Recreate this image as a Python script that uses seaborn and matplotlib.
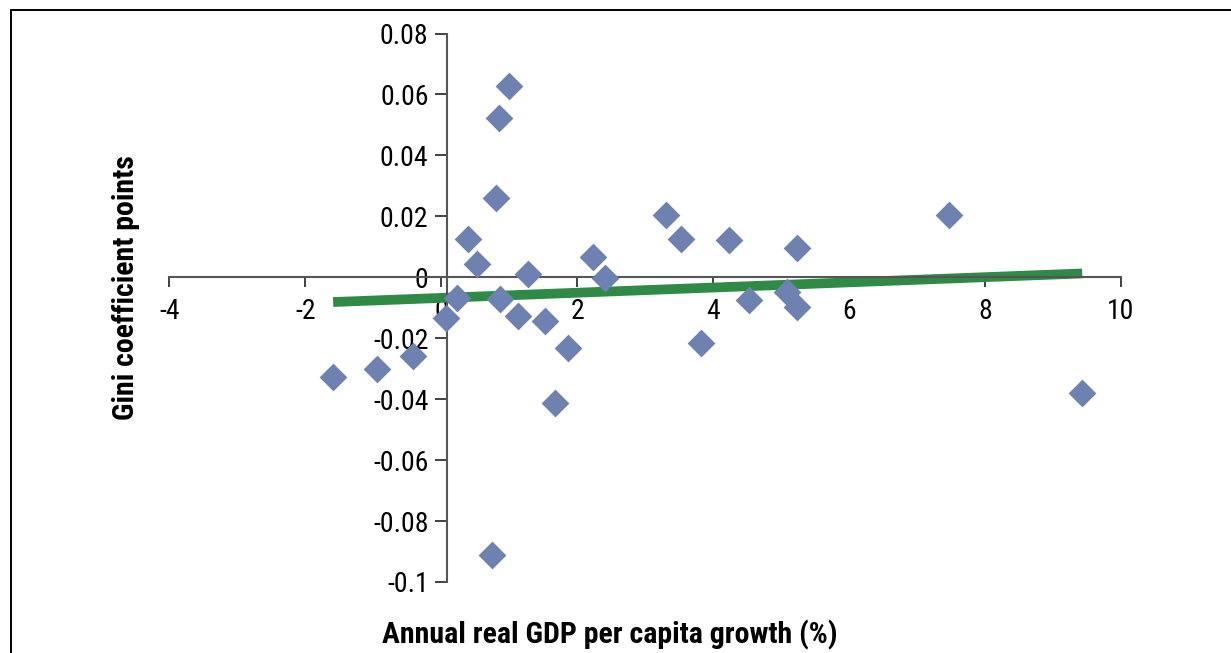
import matplotlib
matplotlib.use("Agg")
import matplotlib.pyplot as plt
from matplotlib import font_manager
from matplotlib.lines import Line2D
import seaborn as sns
import pandas as pd
import numpy as np

# ---- data ----
gdp_growth = [-1.59, -0.94, -0.42, 0.07, 0.23, 0.39, 0.52, 0.80, 0.85, 1.00,
              0.86, 1.13, 1.27, 1.52, 1.87, 1.68, 2.24, 2.41, 3.30, 3.53,
              3.82, 4.24, 4.53, 5.08, 5.24, 5.24, 7.47, 9.43, 0.75]
gini_change = [-0.0327, -0.0301, -0.0258, -0.0134, -0.0069, 0.0126, 0.0043, 0.0260, 0.0524, 0.0628,
               -0.0072, -0.0127, 0.0010, -0.0144, -0.0233, -0.0412, 0.0067, -0.0003, 0.0205, 0.0126,
               -0.0217, 0.0122, -0.0076, -0.0049, -0.0097, 0.0096, 0.0204, -0.0379, -0.0911]
x_ticks = [-4, -2, 0, 2, 4, 6, 8, 10]
x_tick_labels = ["-4", "-2", "0", "2", "4", "6", "8", "10"]
y_ticks = [0.08, 0.06, 0.04, 0.02, 0, -0.02, -0.04, -0.06, -0.08, -0.1]
y_tick_labels = ["0.08", "0.06", "0.04", "0.02", "0", "-0.02", "-0.04", "-0.06", "-0.08", "-0.1"]
x_label = "Annual real GDP per capita growth (%)"
y_label = "Gini coefficient points"

df = pd.DataFrame({"growth": gdp_growth, "gini": gini_change})

sns.set_theme(style="white")


def pick_font(names):
    for n in names:
        try:
            font_manager.findfont(font_manager.FontProperties(family=n), fallback_to_default=False)
            return n
        except Exception:
            continue
    return "DejaVu Sans"


narrow = pick_font(["Liberation Sans Narrow", "Roboto Condensed", "Liberation Sans"])
plt.rcParams["font.family"] = [narrow, "DejaVu Sans"]

fig = plt.figure(figsize=(12.31, 6.53), dpi=100)
W, H = 1231, 653
left_px, right_px, top_px, bottom_px = 169.3, 1121.0, 33.5, 582.0
ax = fig.add_axes([left_px / W, 1 - bottom_px / H, (right_px - left_px) / W, (bottom_px - top_px) / H])

blue = "#6E82B1"
green = "#2E8A45"

sns.regplot(data=df, x="growth", y="gini", ax=ax, scatter=False, ci=None, truncate=True,
            line_kws=dict(color=green, lw=7, solid_capstyle="butt", zorder=2))
sns.scatterplot(data=df, x="growth", y="gini", ax=ax, marker="D", s=200, color=blue,
                linewidth=0, zorder=3)

ax.set_xlim(-4, 10)
ax.set_ylim(-0.1, 0.08)
ax.set_xlabel("")
ax.set_ylabel("")

for s in ["top", "right"]:
    ax.spines[s].set_visible(False)
ax.spines["left"].set_position(("data", 0.08))
ax.spines["bottom"].set_position(("data", 0))
for s in ["left", "bottom"]:
    ax.spines[s].set_color("#555555")
    ax.spines[s].set_linewidth(1.5)
    ax.spines[s].set_zorder(2.5)

ax.set_xticks(x_ticks)
ax.set_xticklabels(x_tick_labels)
ax.set_yticks(y_ticks)
ax.set_yticklabels(y_tick_labels)
ax.tick_params(axis="x", direction="out", length=7, width=1.3, color="#333333",
               labelsize=20, pad=8, labelcolor="black", bottom=True)
ax.tick_params(axis="y", direction="out", length=9, width=1.3, color="#333333",
               labelsize=20, pad=4, labelcolor="black", left=True)
ax.grid(False)
ax.set_facecolor("none")

fig.text(610 / W, 1 - 635 / H, x_label, ha="center", va="center",
         fontsize=21.5, fontweight="bold", color="black")
fig.text(126 / W, 1 - 288 / H, y_label, ha="center", va="center", rotation=90,
         fontsize=21.5, fontweight="bold", color="black")

# frame (top and left edges visible in reference)
fig.add_artist(Line2D([10.5 / W, 10.5 / W], [0, 1 - 10 / H], color="black", lw=1.4,
                      transform=fig.transFigure))
fig.add_artist(Line2D([10.5 / W, 1], [1 - 10 / H, 1 - 10 / H], color="black", lw=1.4,
                      transform=fig.transFigure))

fig.savefig("out.png", dpi=100)
